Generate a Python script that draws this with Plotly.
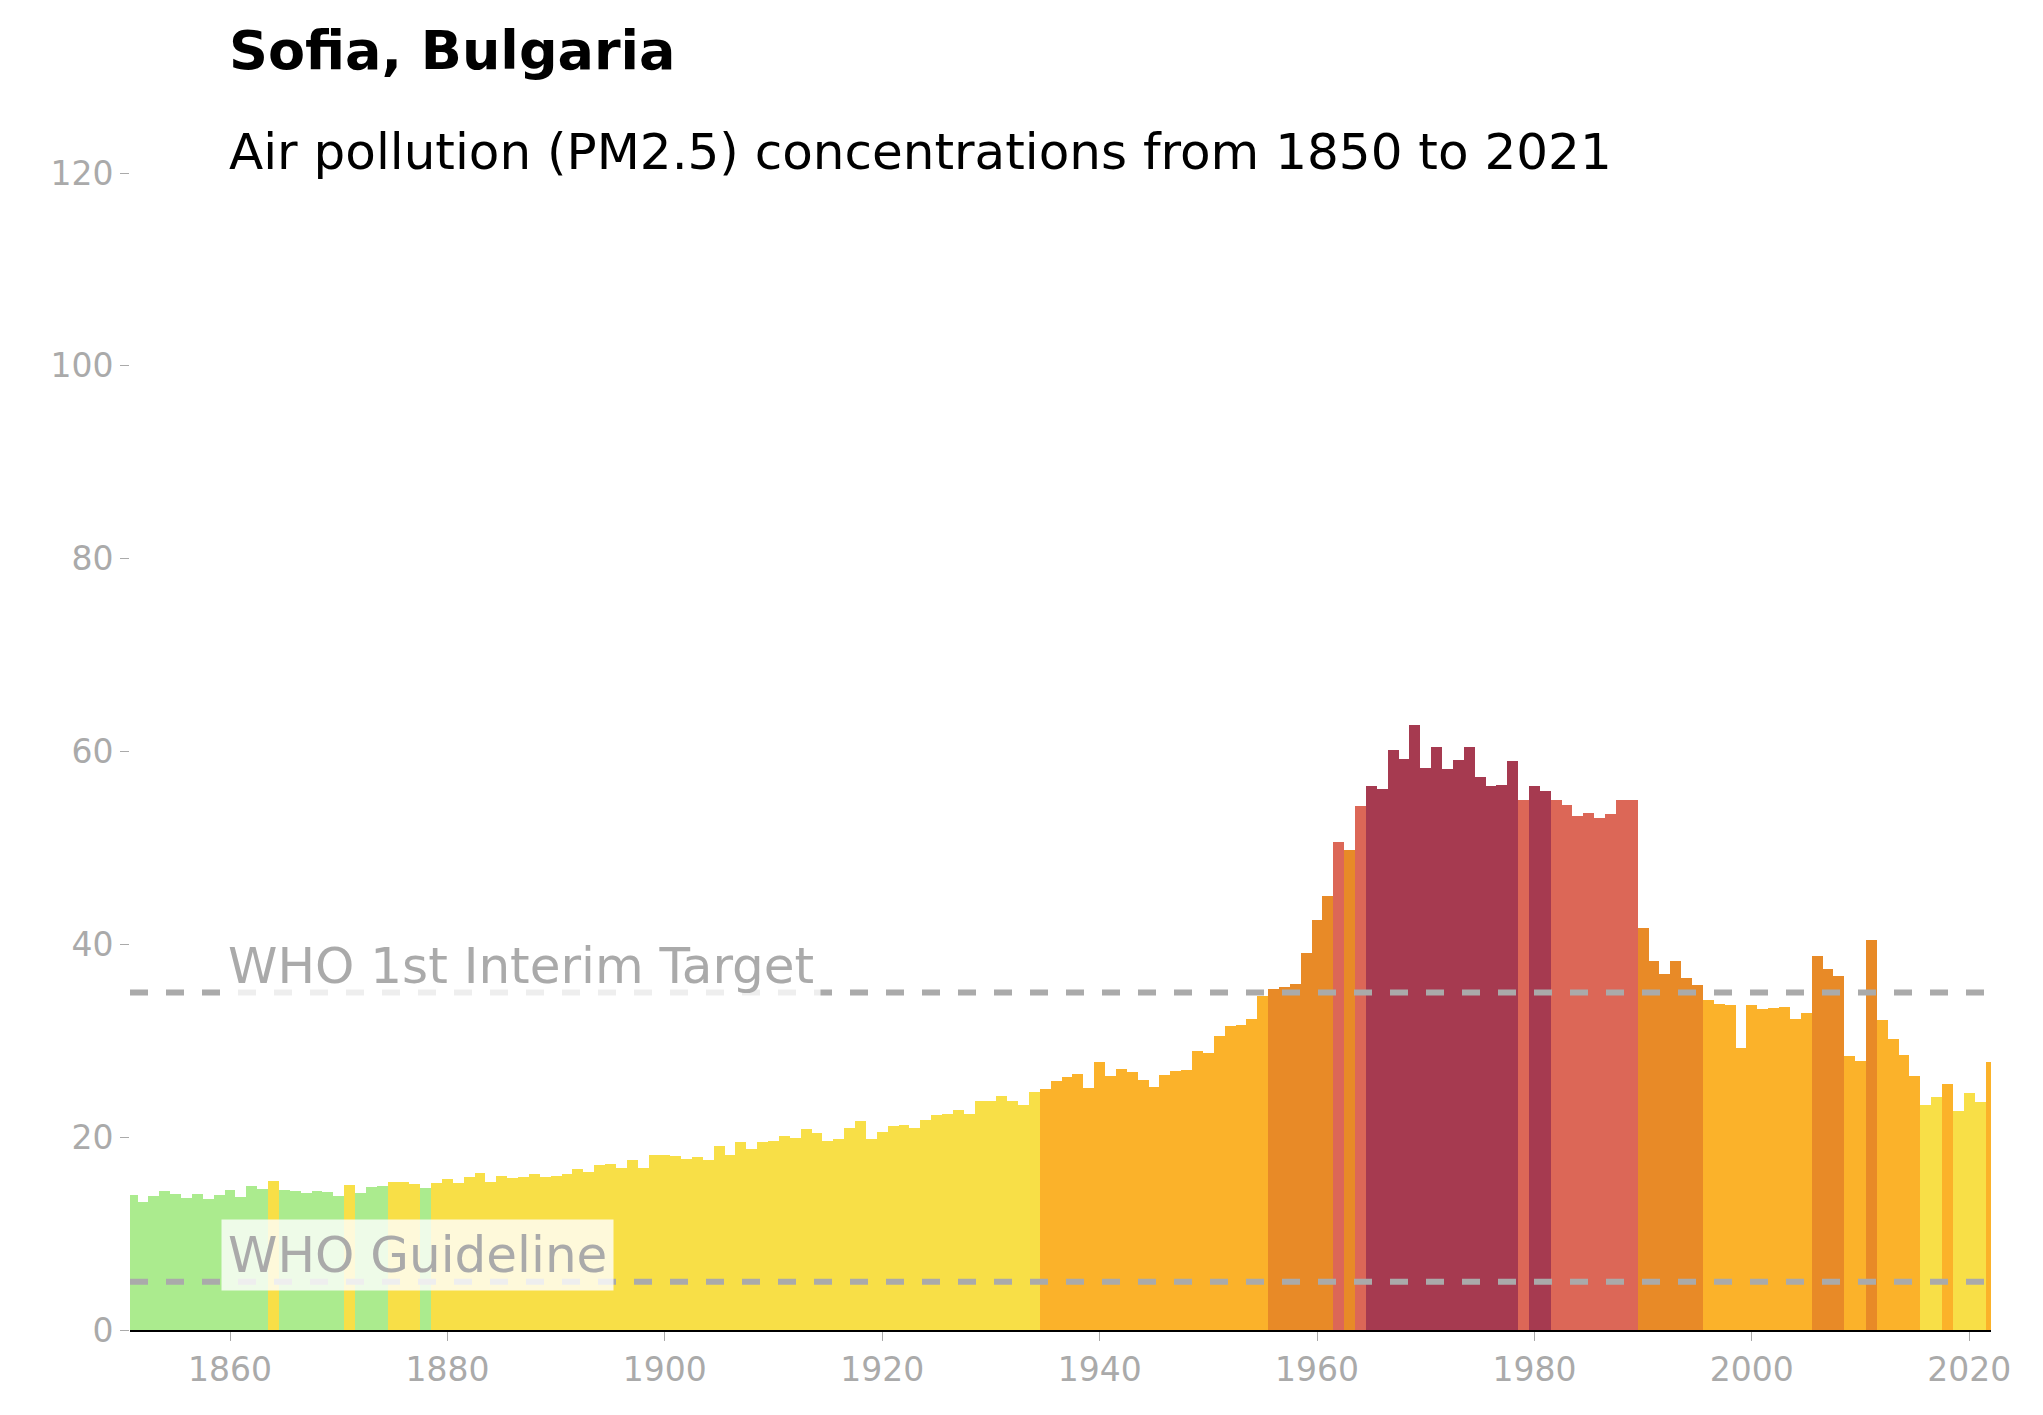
import plotly.graph_objects as go

years = list(range(1850, 2023))
values = [
    14.0, 14.0, 13.3, 13.9, 14.4, 14.1, 13.7, 14.1, 13.6, 14.0,  # 1850-1859
    14.5, 13.8, 14.9, 14.6, 15.5, 14.5, 14.4, 14.2, 14.4, 14.3,  # 1860-1869
    13.9, 15.0, 14.2, 14.8, 14.9, 15.3, 15.3, 15.1, 14.7, 15.2,  # 1870-1879
    15.7, 15.2, 15.9, 16.3, 15.4, 16.0, 15.8, 15.9, 16.2, 15.9,  # 1880-1889
    16.0, 16.2, 16.7, 16.4, 17.1, 17.2, 16.8, 17.6, 16.8, 18.1,  # 1890-1899
    18.1, 18.0, 17.7, 17.9, 17.6, 19.1, 18.2, 19.5, 18.8, 19.5,  # 1900-1909
    19.6, 20.1, 19.9, 20.8, 20.4, 19.6, 19.8, 21.0, 21.7, 19.8,  # 1910-1919
    20.5, 21.2, 21.3, 21.0, 21.8, 22.3, 22.4, 22.8, 22.4, 23.7,  # 1920-1929
    23.8, 24.3, 23.8, 23.3, 24.7, 25.0, 25.8, 26.2, 26.6, 25.1,  # 1930-1939
    27.8, 26.3, 27.1, 26.8, 25.9, 25.2, 26.5, 26.9, 27.0, 28.9,  # 1940-1949
    28.7, 30.5, 31.5, 31.6, 32.3, 34.6, 35.4, 35.6, 35.9, 39.1,  # 1950-1959
    42.5, 45.0, 50.6, 49.8, 54.3, 56.4, 56.1, 60.2, 59.2, 62.7,  # 1960-1969
    58.3, 60.5, 58.2, 59.1, 60.5, 57.4, 56.4, 56.5, 59.0, 55.0,  # 1970-1979
    56.4, 55.9, 55.0, 54.4, 53.3, 53.6, 53.1, 53.5, 55.0, 55.0,  # 1980-1989
    41.7, 38.3, 36.9, 38.3, 36.5, 35.8, 34.2, 33.8, 33.7, 29.2,  # 1990-1999
    33.7, 33.3, 33.4, 33.5, 32.3, 32.9, 38.8, 37.4, 36.7, 28.4,  # 2000-2009
    27.9, 40.4, 32.2, 30.2, 28.5, 26.3, 23.3, 24.2, 25.5, 22.7,  # 2010-2019
    24.6, 23.6, 27.8,                                            # 2020-2022
]
guideline_levels = [5, 35]
guideline_labels = ["WHO Guideline", "WHO 1st Interim Target"]
y_ticks = [0, 20, 40, 60, 80, 100, 120]
x_ticks = [1860, 1880, 1900, 1920, 1940, 1960, 1980, 2000, 2020]

def colour(v):
    if v < 15: return "#abeb8e"
    if v < 25: return "#f8df47"
    if v < 35: return "#fbb22a"
    if v < 50: return "#e88a27"
    if v < 55.5: return "#dc6757"
    return "#a63a50"

fig = go.Figure()
fig.add_trace(go.Bar(x=years, y=values, width=1.0,
                     marker=dict(color=[colour(v) for v in values], line=dict(width=0)),
                     showlegend=False))

for lvl in guideline_levels:
    fig.add_shape(type="line", xref="paper", x0=0, x1=1, y0=lvl, y1=lvl,
                  line=dict(color="#aaaaaa", width=6, dash="dash"), layer="above")
for lvl, lab in zip(guideline_levels, guideline_labels):
    fig.add_annotation(x=1859.2, y=lvl - 1, xanchor="left", yanchor="bottom",
                       text=lab, showarrow=False,
                       font=dict(size=50, color="#aaaaaa", family="DejaVu Sans"),
                       bgcolor="rgba(255,255,255,0.8)", borderpad=6)

fig.add_annotation(xref="paper", yref="paper", x=0.052, y=1.135, xanchor="left", yanchor="top",
                   text="<b>Sofia, Bulgaria</b>", showarrow=False,
                   font=dict(size=54, color="black", family="DejaVu Sans"))
fig.add_annotation(xref="paper", yref="paper", x=0.052, y=1.045, xanchor="left", yanchor="top",
                   text="Air pollution (PM2.5) concentrations from 1850 to 2021", showarrow=False,
                   font=dict(size=50, color="black", family="DejaVu Sans"))

fig.update_layout(
    width=2043, height=1415, plot_bgcolor="white", paper_bgcolor="white",
    margin=dict(l=122, r=60, t=165, b=93), bargap=0,
    font=dict(family="DejaVu Sans", color="#aaaaaa", size=33),
    xaxis=dict(range=[1850.8, 2022], tickvals=x_ticks, ticks="outside", ticklen=9,
               tickcolor="#aaaaaa", showgrid=False, zeroline=False,
               showline=True, linecolor="black", linewidth=2,
               tickfont=dict(size=33, color="#aaaaaa")),
    yaxis=dict(range=[0, 120], tickvals=y_ticks, ticks="outside", ticklen=9,
               tickcolor="#aaaaaa", showgrid=False, zeroline=False, showline=False,
               tickfont=dict(size=33, color="#aaaaaa")),
)
fig.write_html("out.html")
